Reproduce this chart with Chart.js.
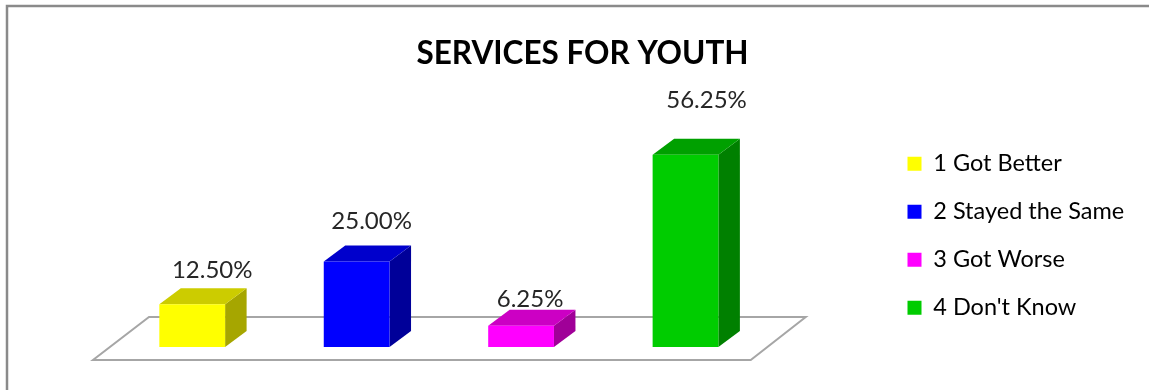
<!DOCTYPE html>
<html lang="en">
<head>
    <meta charset="UTF-8">
    <title>Services for Youth</title>
    <script src="https://cdn.jsdelivr.net/npm/chart.js"></script>
    <style>
        html, body { margin: 0; padding: 0; background: #fff; }
        canvas { display: block; }
    </style>
</head>
<body>
    <canvas id="youthChart" width="1149" height="390"></canvas>

    <script>
        const categories = ['1 Got Better', '2 Stayed the Same', '3 Got Worse', "4 Don't Know"];
        const percentages = [12.5, 25, 6.25, 56.25];

        const frontColors = ['#ffff00', '#0000ff', '#ff00ff', '#00cc00'];
        const topColors = ['#cccc00', '#0000cc', '#cc00c4', '#00a000'];
        const sideColors = ['#a6a600', '#000099', '#a00098', '#008000'];

        // hand placement of the value labels, relative to the top of each bar
        const labelShiftX = [20, 15, 9, 21];
        const labelShiftY = [-26, -33, -19, -47];

        const DEPTH_X = 21.5;
        const DEPTH_Y = 16;

        function polygon(ctx, points, fill) {
            ctx.beginPath();
            points.forEach((p, i) => i ? ctx.lineTo(p[0], p[1]) : ctx.moveTo(p[0], p[1]));
            ctx.closePath();
            ctx.fillStyle = fill;
            ctx.fill();
        }

        // Frame, floor, box sides and value labels around the plain bars
        const boxPlugin = {
            id: 'boxBars',
            afterLayout(chart) {
                // legend and title sit off their default slots
                chart.legend.left = 883;
                chart.legend.right = 1149;
                chart.legend.top = 127.5;
                chart.titleBlock.left = 0;
                chart.titleBlock.right = 1165;
            },
            beforeDraw(chart) {
                const ctx = chart.ctx;
                ctx.save();
                ctx.strokeStyle = '#8a8a8a';
                ctx.lineWidth = 2.5;
                ctx.beginPath();
                ctx.moveTo(7, 390);
                ctx.lineTo(7, 6);
                ctx.lineTo(1149, 6);
                ctx.stroke();
                ctx.restore();
            },
            beforeDatasetsDraw(chart) {
                const ctx = chart.ctx;
                const area = chart.chartArea;
                const base = chart.scales.y.getPixelForValue(0);
                const bars = chart.getDatasetMeta(0).data;

                ctx.save();
                ctx.strokeStyle = '#a6a6a6';
                ctx.lineWidth = 2;
                ctx.lineJoin = 'miter';
                ctx.beginPath();
                ctx.moveTo(area.left - 17, base + 13);
                ctx.lineTo(area.right - 17, base + 13);
                ctx.lineTo(area.right + 38, base - 30);
                ctx.lineTo(area.left + 39, base - 30);
                ctx.closePath();
                ctx.stroke();

                bars.forEach((bar, i) => {
                    const half = bar.width / 2;
                    const l = bar.x - half, r = bar.x + half;
                    polygon(ctx, [[r, bar.y], [r + DEPTH_X, bar.y - DEPTH_Y], [r + DEPTH_X, bar.base - DEPTH_Y], [r, bar.base]], sideColors[i]);
                    polygon(ctx, [[l, bar.y], [l + DEPTH_X, bar.y - DEPTH_Y], [r + DEPTH_X, bar.y - DEPTH_Y], [r, bar.y]], topColors[i]);
                });
                ctx.restore();
            },
            afterDatasetsDraw(chart) {
                const ctx = chart.ctx;
                const bars = chart.getDatasetMeta(0).data;
                ctx.save();
                ctx.font = '24px Lato';
                ctx.fillStyle = '#262626';
                ctx.textAlign = 'center';
                ctx.textBaseline = 'alphabetic';
                bars.forEach((bar, i) => {
                    ctx.fillText(percentages[i].toFixed(2) + '%', bar.x + labelShiftX[i], bar.y + labelShiftY[i]);
                });
                ctx.restore();
            }
        };

        new Chart(document.getElementById('youthChart'), {
            type: 'bar',
            data: {
                labels: categories,
                datasets: [{
                    data: percentages,
                    backgroundColor: frontColors,
                    barPercentage: 0.4,
                    categoryPercentage: 1
                }]
            },
            options: {
                responsive: false,
                animation: false,
                layout: { padding: { left: 110, right: 130, top: 0, bottom: 43 } },
                scales: {
                    x: { display: false },
                    y: { display: false, min: 0, max: 75 }
                },
                plugins: {
                    tooltip: { enabled: false },
                    title: {
                        display: true,
                        text: 'SERVICES FOR YOUTH',
                        color: '#000',
                        font: { family: 'Lato', size: 31.5, weight: 'bold' },
                        padding: { top: 35, bottom: 17.9 }
                    },
                    legend: {
                        position: 'right',
                        align: 'start',
                        labels: {
                            color: '#262626',
                            font: { family: 'Lato', size: 23.5 },
                            boxWidth: 14,
                            boxHeight: 14,
                            padding: 24.5,
                            generateLabels() {
                                return categories.map((name, i) => ({
                                    text: name,
                                    fillStyle: frontColors[i],
                                    strokeStyle: frontColors[i],
                                    lineWidth: 0,
                                    index: i
                                }));
                            }
                        }
                    }
                }
            },
            plugins: [boxPlugin]
        });
    </script>
</body>
</html>
